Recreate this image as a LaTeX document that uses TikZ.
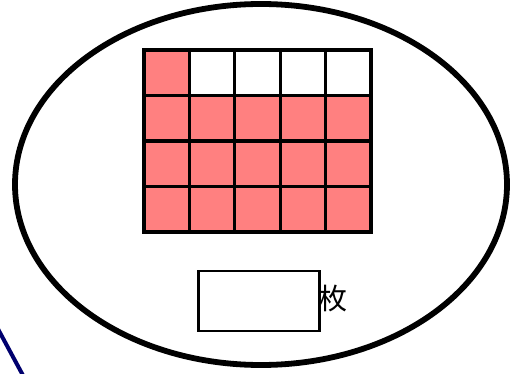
\documentclass[tikz,border=0pt]{standalone}
\usepackage{fontspec}
\newfontfamily\cjk{Noto Sans CJK JP}
\definecolor{pinkcell}{RGB}{255,128,128}
\definecolor{navyline}{RGB}{0,0,110}
\begin{document}
\begin{tikzpicture}[x=1pt,y=-1pt,
  answerbox/.style={draw=black,line width=2.6pt,fill=white}]
\useasboundingbox (0,0) rectangle (514,374);
\draw[navyline,line width=4pt] (-2,329) -- (26,381);
\draw[line width=5.8pt] (261,184.5) ellipse [x radius=246, y radius=180.5];
% grid
\foreach \c in {0,...,4}{
  \foreach \r in {0,...,3}{
    \pgfmathsetmacro{\xa}{144+\c*45.4}
    \pgfmathsetmacro{\ya}{50+\r*45.5}
    \ifnum\r=0
      \ifnum\c=0
        \fill[pinkcell] (\xa,\ya) rectangle ++(45.4,45.5);
      \fi
    \else
      \fill[pinkcell] (\xa,\ya) rectangle ++(45.4,45.5);
    \fi
  }
}
\foreach \c in {0,...,4}{
  \foreach \r in {0,...,3}{
    \pgfmathsetmacro{\xa}{144+\c*45.4}
    \pgfmathsetmacro{\ya}{50+\r*45.5}
    \draw[line width=3.2pt] (\xa,\ya) rectangle ++(45.4,45.5);
  }
}
\node[answerbox,minimum width=121pt,minimum height=60pt,inner sep=0pt,anchor=north west] (box) at (197,269.5) {};
\node[anchor=west,inner sep=0pt,font=\cjk\fontsize{29}{29}\selectfont] (unit) at (318,299) {枚};
\end{tikzpicture}
\end{document}
